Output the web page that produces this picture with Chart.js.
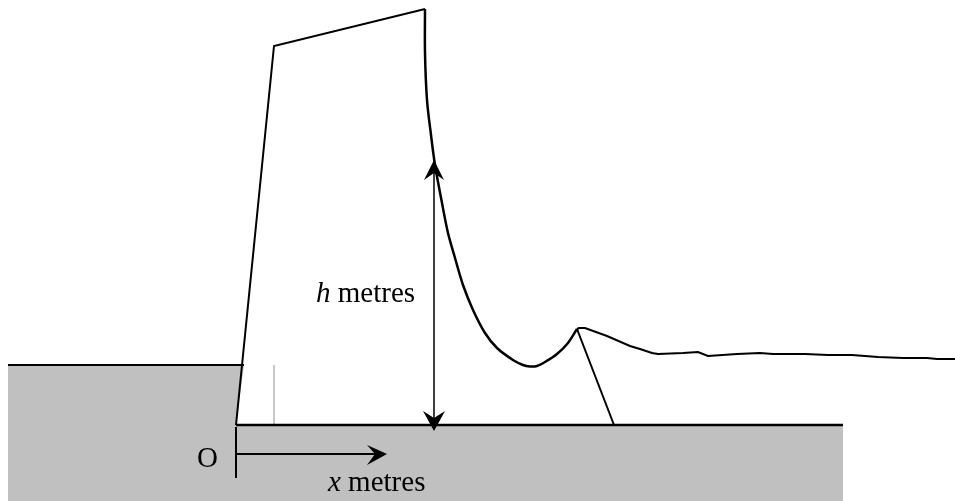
<!DOCTYPE html>
<html>
<head>
<meta charset="utf-8">
<title>Dam and tsunami wave profile</title>
<script src="https://cdn.jsdelivr.net/npm/chart.js@4"></script>
<style>
html, body { margin: 0; padding: 0; background: #fff; }
canvas { display: block; }
</style>
</head>
<body>
<canvas id="diagram" width="955" height="501"></canvas>
<script>
const ground = [[8,365],[244,365],[236,425],[843,425],[843,501],[8,501]];
const leftLevel = [[8,365],[244,365]];
const seabed = [[236,425],[843,425]];
const wall = [[236,425],[274,46],[425,9]];
const wallMark = [[274,365],[274,425]];
const bigCurve = [[425,9],[425,53],[427,100],[431,135],[435,165],[442,203],[448,233],[455,258],[463,285],[473,310],[485,333],[497,348],[513,360],[523,365],[530,366.5],[537,366],[545,362],[557,354],[568,343],[577,329]];
const surface = [[577,329],[579,328],[585,328],[607,336],[630,346],[640,349],[652,353],[658,354],[683,353],[698,352],[708,356],[737,354],[760,353],[773,354],[805,354],[828,355],[852,355],[878,357],[903,358],[927,358],[937,359],[955,359]];
const ramp = [[577,329],[614,425]];
const originTick = [[236,427],[236,478]];
const xArrowShaft = [[236,454],[378,454]];
const xArrowHead = [[387,454],[367,445],[375,454],[367,465]];
const hArrowShaft = [[434,172],[434,420]];
const hArrowTop = [[434,160],[424,180],[434,173],[444,180]];
const hArrowBottom = [[434,431],[423,411],[434,418],[445,411]];

const labels = [
  { parts: [['italic', 'h'], ['', ' metres']], x: 316, y: 302 },
  { parts: [['', 'O']], x: 197, y: 467 },
  { parts: [['italic', 'x'], ['', ' metres']], x: 328, y: 491 }
];

const toPoints = list => list.map(p => ({ x: p[0], y: p[1] }));

function stroke(list, width, colour, tension) {
  return { data: toPoints(list), showLine: true, fill: false, borderColor: colour || '#000', borderWidth: width, pointRadius: 0, tension: tension || 0 };
}
function solid(list, colour) {
  return { data: toPoints(list), showLine: true, fill: 'shape', backgroundColor: colour, borderWidth: 0, pointRadius: 0, tension: 0 };
}

const textPlugin = {
  id: 'diagramText',
  afterDatasetsDraw(chart) {
    const ctx = chart.ctx;
    ctx.save();
    ctx.fillStyle = '#000';
    ctx.textBaseline = 'alphabetic';
    labels.forEach(l => {
      let px = chart.scales.x.getPixelForValue(l.x);
      const py = chart.scales.y.getPixelForValue(l.y);
      l.parts.forEach(part => {
        ctx.font = part[0] + ' 29px "Liberation Serif"';
        ctx.fillText(part[1], px, py);
        px += ctx.measureText(part[1]).width;
      });
    });
    ctx.restore();
  }
};

new Chart(document.getElementById('diagram'), {
  type: 'scatter',
  data: {
    datasets: [
      stroke(bigCurve, 2.5, '#000', 0.3),
      stroke(surface, 2),
      stroke(ramp, 2),
      stroke(wall, 2),
      stroke(leftLevel, 2),
      stroke(seabed, 2.5),
      stroke(wallMark, 1, '#c0c0c0'),
      stroke(originTick, 2),
      stroke(xArrowShaft, 2),
      solid(xArrowHead, '#000'),
      stroke(hArrowShaft, 1.5),
      solid(hArrowTop, '#000'),
      solid(hArrowBottom, '#000'),
      solid(ground, '#c0c0c0')
    ]
  },
  options: {
    responsive: false,
    animation: false,
    layout: { padding: 0 },
    plugins: { legend: { display: false }, tooltip: { enabled: false } },
    scales: {
      x: { type: 'linear', display: false, min: 0, max: 955 },
      y: { type: 'linear', display: false, min: 0, max: 501, reverse: true }
    }
  },
  plugins: [textPlugin]
});
</script>
</body>
</html>
